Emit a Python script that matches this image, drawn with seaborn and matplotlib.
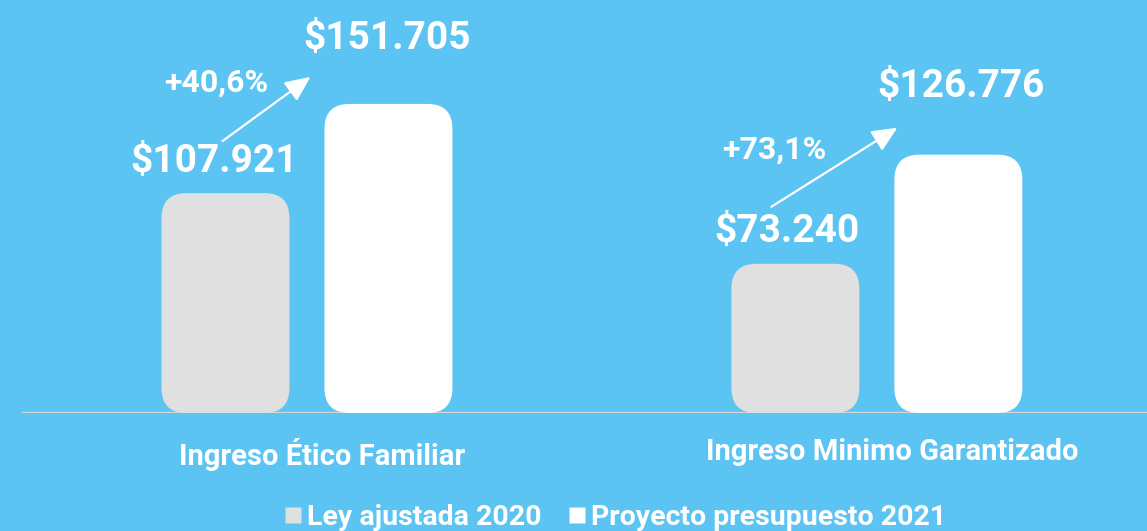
import seaborn as sns
import matplotlib.pyplot as plt
import pandas as pd
from matplotlib.patches import FancyBboxPatch
from matplotlib.lines import Line2D
from matplotlib import transforms

# ---- Data

categories = ["Ingreso Ético Familiar", "Ingreso Minimo Garantizado"]
series = ["Ley ajustada 2020", "Proyecto presupuesto 2021"]
values_2020 = [107921, 73240]
values_2021 = [151705, 126776]

BG = "#5BC4F2"
COLORS = ["#E0E0E0", "#FFFFFF"]

sns.set_theme(style="white")
plt.rcParams["font.family"] = ["Roboto", "DejaVu Sans"]
plt.rcParams["font.weight"] = "bold"

df = pd.DataFrame({
    "categoria": categories * 2,
    "serie": [series[0]] * 2 + [series[1]] * 2,
    "valor": values_2020 + values_2021,
})


def fmt_money(v):
    return "$" + f"{v:,}".replace(",", ".")


def fmt_pct(a, b):
    return "+" + f"{(b / a - 1) * 100:.1f}".replace(".", ",") + "%"


fig = plt.figure(figsize=(11.47, 5.31), dpi=100, facecolor=BG)
ax = fig.add_axes([22 / 1147, 118 / 531, 1125 / 1147, 413 / 531])
ax.set_facecolor(BG)

sns.barplot(data=df, x="categoria", y="valor", hue="serie", hue_order=series,
            palette=COLORS, width=0.572, gap=0.215, ax=ax, legend=False,
            saturation=1, linewidth=0)

ax.set_xlim(-0.5, 1.474)
ax.set_ylim(0, 202700)
for s in ax.spines.values():
    s.set_visible(False)
ax.axhline(0, color="#D3D3D3", lw=2.5, zorder=1)
ax.set_yticks([])
ax.set_xlabel("")
ax.set_ylabel("")

# ---- Rounded bars
fig.canvas.draw()
px_x = ax.transData.transform((1, 0))[0] - ax.transData.transform((0, 0))[0]
px_y = ax.transData.transform((0, 1))[1] - ax.transData.transform((0, 0))[1]
radius_px = 25
rx = radius_px / px_x
aspect = (radius_px / px_y) / rx

bars = list(ax.patches)
tops = []
for p in bars:
    x, y, w, h = p.get_x(), p.get_y(), p.get_width(), p.get_height()
    p.remove()
    rb = FancyBboxPatch((x, y), w, h, boxstyle=f"round,pad=0,rounding_size={rx}",
                        mutation_aspect=aspect, facecolor=p.get_facecolor(),
                        edgecolor="none", zorder=2)
    ax.add_patch(rb)
    tops.append((x + w / 2, h))

# bars are ordered by hue then category
gray_tops = tops[:2]
white_tops = tops[2:]


def to_px(pt, dx, dy):
    # dx to the right, dy upwards, in pixels from a bar top
    X, Y = ax.transData.transform(pt)
    return (X + dx, Y + dy)


gray_off = [(-11, 36), (-8, 36)]
white_off = [(-1, 69), (3, 72)]
pct_off = [(-9, 114), (-21, 117)]
arrow_start = [(-3, 52), (-24, 57)]
arrow_end = [(-78, 27), (-61, 27)]

for i in range(2):
    g, w = gray_tops[i], white_tops[i]
    ax.annotate(fmt_money(values_2020[i]), xy=to_px(g, *gray_off[i]),
                xycoords="figure pixels", ha="center", va="center_baseline",
                fontsize=28, color="white", fontweight="bold")
    ax.annotate(fmt_money(values_2021[i]), xy=to_px(w, *white_off[i]),
                xycoords="figure pixels", ha="center", va="center_baseline",
                fontsize=28, color="white", fontweight="bold")
    ax.annotate(fmt_pct(values_2020[i], values_2021[i]), xy=to_px(g, *pct_off[i]),
                xycoords="figure pixels", ha="center", va="center_baseline",
                fontsize=23, color="white", fontweight="bold")
    ax.annotate("", xy=to_px(w, *arrow_end[i]), xycoords="figure pixels",
                xytext=to_px(g, *arrow_start[i]), textcoords="figure pixels",
                arrowprops=dict(arrowstyle="-|>,head_length=1.1,head_width=0.5",
                                color="white", lw=1.6, mutation_scale=14,
                                shrinkA=0, shrinkB=0))

# ---- Category labels
ax.tick_params(axis="x", length=0, pad=18, labelsize=21, labelcolor="white")
offset = transforms.ScaledTranslation(15 / 100, 0, fig.dpi_scale_trans)
for lab in ax.get_xticklabels():
    lab.set_fontweight("bold")
    lab.set_transform(lab.get_transform() + offset)

# ---- Legend
handles = [Line2D([], [], marker="s", linestyle="none", markersize=12,
                  markerfacecolor=c, markeredgecolor="none") for c in COLORS]
leg = fig.legend(handles, series, loc="center", bbox_to_anchor=(0.536, 0.026),
                 ncol=2, frameon=False, handletextpad=0.15, columnspacing=0.9,
                 fontsize=20.5, handlelength=0.7)
for t in leg.get_texts():
    t.set_color("white")
    t.set_fontweight("bold")

fig.savefig("out.png", dpi=100, facecolor=BG)
